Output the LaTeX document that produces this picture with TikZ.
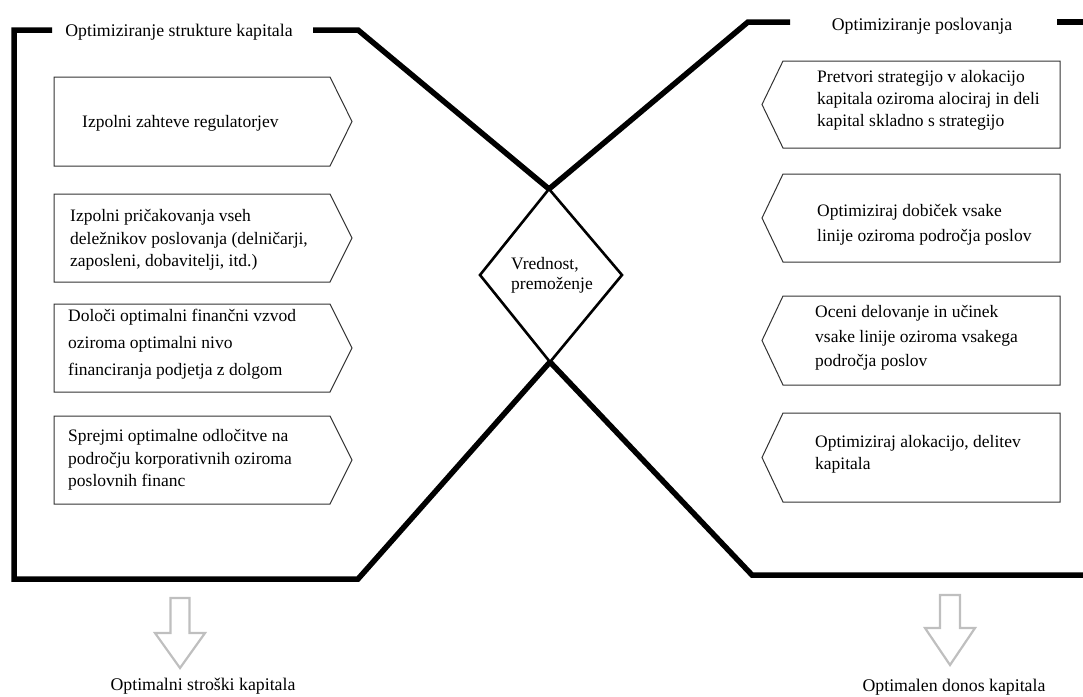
\documentclass[tikz,border=0pt]{standalone}
\usepackage{fontspec}
\setmainfont{Liberation Serif}
\begin{document}
\begin{tikzpicture}[x=1pt,y=-1pt,
  frame/.style={line width=5.5pt, line join=miter, line cap=butt},
  pbox/.style={draw=black!80, line width=1pt, fill=white},
  dia/.style={line width=2.6pt, line join=miter},
  garrow/.style={draw=black!25, line width=2.2pt, line join=miter},
  txt/.style={inner sep=0pt, align=left, anchor=west},
  ttl/.style={inner sep=0pt, anchor=base, font=\fontsize{17.8}{21}\selectfont}]
\useasboundingbox (0,0) rectangle (1083,696);
% thick frames
\draw[frame] (52,30) -- (14,30) -- (14,579) -- (358,579) -- (550,362);
\draw[frame] (313,30) -- (358,30) -- (549,189);
\draw[frame] (790,22) -- (748,22) -- (549,189);
\draw[frame] (1057,22) -- (1090,22);
\draw[frame] (550,362) -- (752,575) -- (1090,575);
% diamond
\draw[dia] (549,189) -- (622,275) -- (550,362) -- (480,275) -- cycle;
\node[txt, font=\fontsize{17.5}{20}\selectfont] (center) at (511,275) {Vrednost,\\premoženje};
% left boxes
\foreach \t/\b in {77/166, 194/282, 304/392, 416/504}{
  \draw[pbox] (54,\t) -- (330,\t) -- (352,{(\t+\b)/2}) -- (330,\b) -- (54,\b) -- cycle;
}
% right boxes
\foreach \t/\b in {61/148, 174/262, 296/385, 413/502}{
  \draw[pbox] (1060,\t) -- (783,\t) -- (762,{(\t+\b)/2}) -- (783,\b) -- (1060,\b) -- cycle;
}
% titles
\node[ttl] (ltitle) at (179,36) {Optimiziranje strukture kapitala};
\node[ttl] (rtitle) at (922,30) {Optimiziranje poslovanja};
% left texts
\node[txt, font=\fontsize{17.5}{22.5}\selectfont] (l1) at (82,123) {Izpolni zahteve regulatorjev};
\node[txt, font=\fontsize{17.5}{22.5}\selectfont] (l2) at (70,240) {Izpolni pričakovanja vseh\\deležnikov poslovanja (delničarji,\\zaposleni, dobavitelji, itd.)};
\node[txt, font=\fontsize{17.5}{27}\selectfont] (l3) at (68,344) {Določi optimalni finančni vzvod\\oziroma optimalni nivo\\financiranja podjetja z dolgom};
\node[txt, font=\fontsize{17.5}{22.5}\selectfont] (l4) at (68,460) {Sprejmi optimalne odločitve na\\področju korporativnih oziroma\\poslovnih financ};
% right texts
\node[txt, font=\fontsize{17.5}{22}\selectfont] (r1) at (817,100) {Pretvori strategijo v alokacijo\\kapitala oziroma alociraj in deli\\kapital skladno s strategijo};
\node[txt, font=\fontsize{17.5}{25}\selectfont] (r2) at (817,225) {Optimiziraj dobiček vsake\\linije oziroma področja poslov};
\node[txt, font=\fontsize{17.5}{24.5}\selectfont] (r3) at (815,338) {Oceni delovanje in učinek\\vsake linije oziroma vsakega\\področja poslov};
\node[txt, font=\fontsize{17.5}{22}\selectfont] (r4) at (815,454) {Optimiziraj alokacijo, delitev\\kapitala};
% gray arrows
\draw[garrow] (170.5,598) -- (189.5,598) -- (189.5,633) -- (205,633) -- (180,668) -- (155,633) -- (170.5,633) -- cycle;
\draw[garrow] (940,595) -- (960,595) -- (960,628) -- (975,628) -- (950,665) -- (925,628) -- (940,628) -- cycle;
% results
\node[ttl] (lres) at (203,690) {Optimalni stroški kapitala};
\node[ttl] (rres) at (954,691) {Optimalen donos kapitala};
\end{tikzpicture}
\end{document}
